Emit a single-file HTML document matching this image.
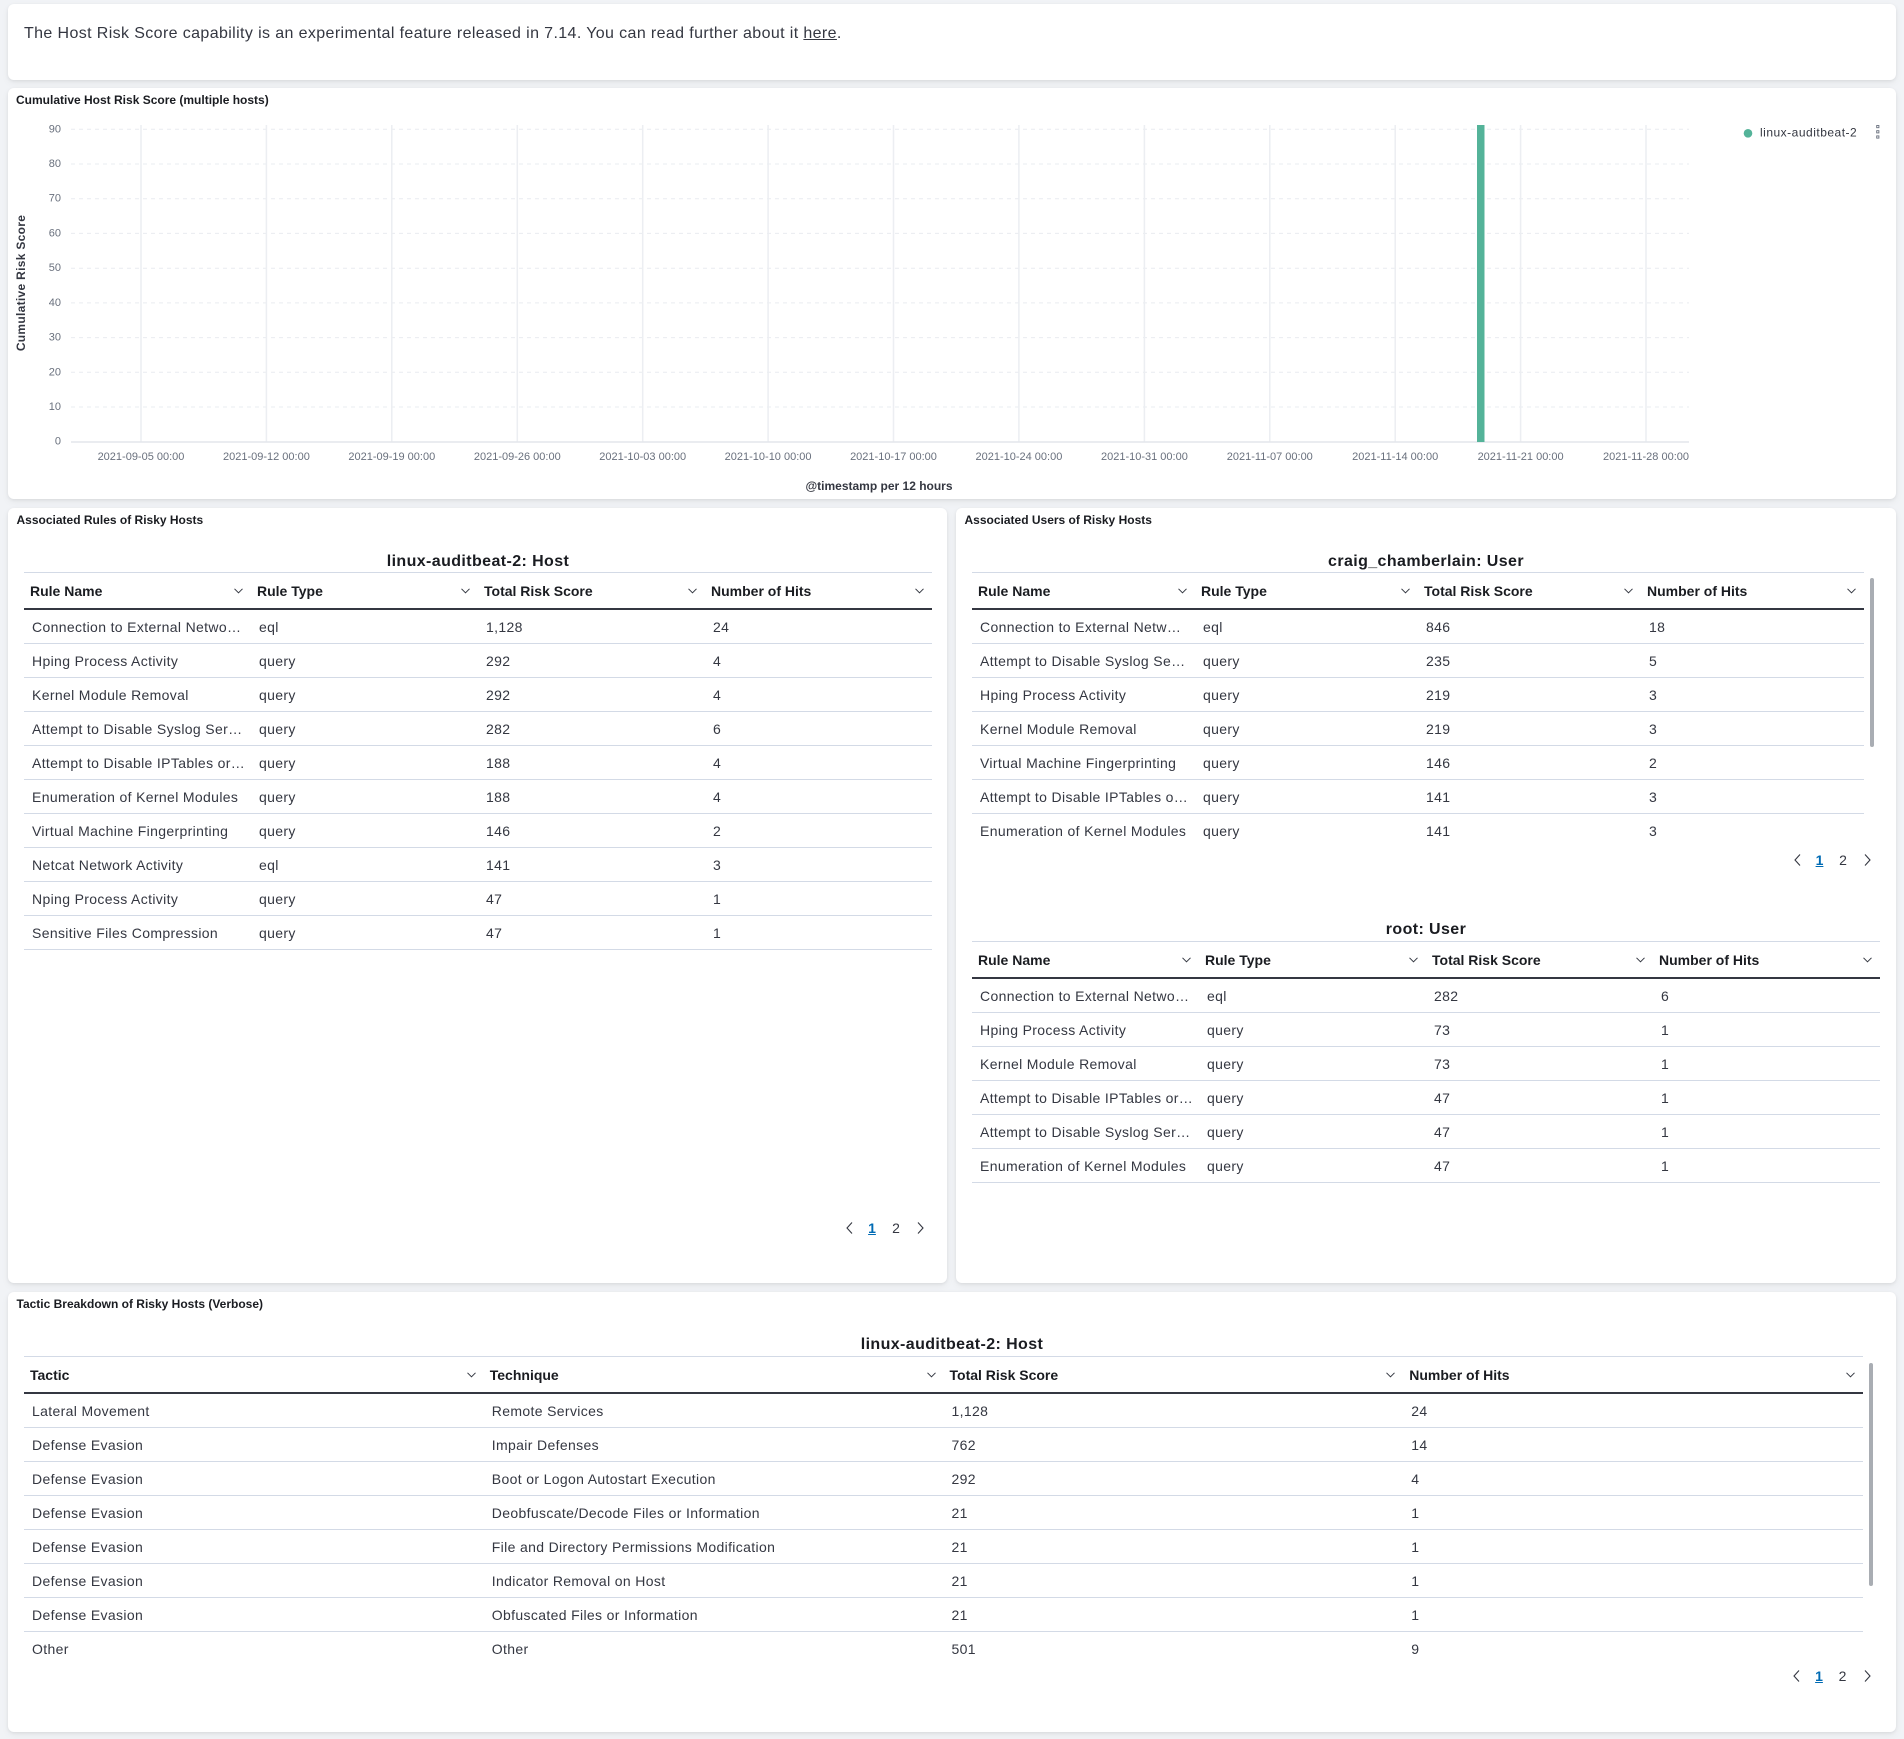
<!DOCTYPE html>
<html><head><meta charset="utf-8">
<style>
html,body{margin:0;padding:0;}
body{width:1904px;height:1739px;overflow:hidden;position:relative;background:#f1f3f6;font-family:"Liberation Sans",Arial,sans-serif;color:#343741;}
.p{position:absolute;background:#fff;border-radius:6px;box-shadow:0 1px 3px rgba(0,0,0,.07),0 3px 8px rgba(0,0,0,.05);}
.ttl{position:absolute;font-weight:bold;font-size:12px;line-height:16px;color:#1a1c21;white-space:nowrap;}
.cap{position:absolute;text-align:center;font-weight:bold;font-size:16px;line-height:20px;letter-spacing:.4px;color:#1a1c21;white-space:nowrap;}
.tbl{position:absolute;}
.hd{display:flex;height:38px;box-sizing:border-box;border-top:1px solid #d3dae6;border-bottom:2px solid #343741;}
.hd .c{position:relative;font-weight:bold;font-size:14px;line-height:37px;height:35px;padding-left:6px;color:#1a1c21;box-sizing:border-box;white-space:nowrap;}
.hd .c svg{position:absolute;top:15px;right:8px;}
.r{display:flex;height:34px;}
.r .c{height:34px;box-sizing:border-box;border-bottom:1px solid #d3dae6;line-height:35px;padding-left:8px;font-size:14px;letter-spacing:.35px;white-space:nowrap;overflow:hidden;color:#343741;}
.r.nb .c{border-bottom:none;}
.pg{position:absolute;font-size:14px;line-height:16px;}
.pg span{position:absolute;top:0;transform:translateX(-50%);}
.pg .a{color:#006bb4;text-decoration:underline;font-weight:bold;}
.pg svg{position:absolute;top:2px;}
.sb{position:absolute;width:4px;border-radius:2px;background:#a9adb3;}
</style></head>
<body>

<!-- Markdown panel -->
<div class="p" style="left:8px;top:4px;width:1888px;height:76px;"></div>
<div style="position:absolute;left:24px;top:24px;font-size:16px;line-height:20px;color:#343741;white-space:nowrap;letter-spacing:.38px;">The Host Risk Score capability is an experimental feature released in 7.14. You can read further about it <span style="text-decoration:underline;">here</span>.</div>

<!-- Chart panel -->
<div class="p" style="left:8px;top:88px;width:1888px;height:411px;"></div>
<div class="ttl" style="left:16px;top:92px;">Cumulative Host Risk Score (multiple hosts)</div>
<svg style="position:absolute;left:0;top:0;" width="1904" height="520" viewBox="0 0 1904 520">
 <g stroke="#e9ecf0" stroke-width="1" stroke-dasharray="4 4">
  <line x1="71" x2="1689" y1="407" y2="407"/>
  <line x1="71" x2="1689" y1="372.3" y2="372.3"/>
  <line x1="71" x2="1689" y1="337.6" y2="337.6"/>
  <line x1="71" x2="1689" y1="302.9" y2="302.9"/>
  <line x1="71" x2="1689" y1="268.2" y2="268.2"/>
  <line x1="71" x2="1689" y1="233.4" y2="233.4"/>
  <line x1="71" x2="1689" y1="198.7" y2="198.7"/>
  <line x1="71" x2="1689" y1="164" y2="164"/>
  <line x1="71" x2="1689" y1="129.3" y2="129.3"/>
 </g>
 <g stroke="#eceef2" stroke-width="1.5">
  <line x1="141" x2="141" y1="125" y2="442"/>
  <line x1="266.4" x2="266.4" y1="125" y2="442"/>
  <line x1="391.8" x2="391.8" y1="125" y2="442"/>
  <line x1="517.3" x2="517.3" y1="125" y2="442"/>
  <line x1="642.7" x2="642.7" y1="125" y2="442"/>
  <line x1="768.1" x2="768.1" y1="125" y2="442"/>
  <line x1="893.5" x2="893.5" y1="125" y2="442"/>
  <line x1="1018.9" x2="1018.9" y1="125" y2="442"/>
  <line x1="1144.4" x2="1144.4" y1="125" y2="442"/>
  <line x1="1269.8" x2="1269.8" y1="125" y2="442"/>
  <line x1="1395.2" x2="1395.2" y1="125" y2="442"/>
  <line x1="1520.6" x2="1520.6" y1="125" y2="442"/>
  <line x1="1646" x2="1646" y1="125" y2="442"/>
 </g>
 <line x1="71" x2="1689" y1="442" y2="442" stroke="#e3e6eb" stroke-width="1.5"/>
 <rect x="1477" y="125" width="7.5" height="317" fill="#54b399"/>
 <g font-family="Liberation Sans, Arial, sans-serif" font-size="11" fill="#69707d" text-anchor="end" dominant-baseline="central">
  <text x="61" y="441.7">0</text>
  <text x="61" y="407">10</text>
  <text x="61" y="372.3">20</text>
  <text x="61" y="337.6">30</text>
  <text x="61" y="302.9">40</text>
  <text x="61" y="268.2">50</text>
  <text x="61" y="233.4">60</text>
  <text x="61" y="198.7">70</text>
  <text x="61" y="164">80</text>
  <text x="61" y="129.3">90</text>
 </g>
 <g font-family="Liberation Sans, Arial, sans-serif" font-size="11" fill="#69707d" text-anchor="middle" dominant-baseline="central">
  <text x="141" y="457">2021-09-05 00:00</text>
  <text x="266.4" y="457">2021-09-12 00:00</text>
  <text x="391.8" y="457">2021-09-19 00:00</text>
  <text x="517.3" y="457">2021-09-26 00:00</text>
  <text x="642.7" y="457">2021-10-03 00:00</text>
  <text x="768.1" y="457">2021-10-10 00:00</text>
  <text x="893.5" y="457">2021-10-17 00:00</text>
  <text x="1018.9" y="457">2021-10-24 00:00</text>
  <text x="1144.4" y="457">2021-10-31 00:00</text>
  <text x="1269.8" y="457">2021-11-07 00:00</text>
  <text x="1395.2" y="457">2021-11-14 00:00</text>
  <text x="1520.6" y="457">2021-11-21 00:00</text>
  <text x="1646" y="457">2021-11-28 00:00</text>
 </g>
 <text x="879" y="486" font-family="Liberation Sans, Arial, sans-serif" font-size="12" font-weight="bold" fill="#343741" text-anchor="middle" dominant-baseline="central">@timestamp per 12 hours</text>
 <text transform="translate(21,283) rotate(-90)" font-family="Liberation Sans, Arial, sans-serif" font-size="12" font-weight="bold" fill="#343741" text-anchor="middle" dominant-baseline="central" letter-spacing=".3">Cumulative Risk Score</text>
 <circle cx="1748" cy="133.3" r="4.3" fill="#54b399"/>
 <text x="1760" y="132.5" font-family="Liberation Sans, Arial, sans-serif" font-size="12" fill="#343741" dominant-baseline="central" letter-spacing=".5">linux-auditbeat-2</text>
 <g fill="none" stroke="#69707d" stroke-width="0.9">
  <rect x="1876.7" y="125.5" width="2.2" height="2.2"/>
  <rect x="1876.7" y="130.7" width="2.2" height="2.2"/>
  <rect x="1876.7" y="135.9" width="2.2" height="2.2"/>
 </g>
</svg>

<!-- Left panel -->
<div class="p" style="left:8px;top:508px;width:939px;height:775px;"></div>
<div class="ttl" style="left:16.5px;top:512px;">Associated Rules of Risky Hosts</div>
<div class="cap" style="left:24px;width:908px;top:552px;">linux-auditbeat-2: Host</div>
<div class="tbl" style="left:24px;top:572px;width:908px;">
 <div class="hd">
  <div class="c" style="width:227px">Rule Name<svg width="9" height="6"><polyline points="0.5,0.8 4.5,4.8 8.5,0.8" fill="none" stroke="#343741" stroke-width="1"/></svg></div>
  <div class="c" style="width:227px">Rule Type<svg width="9" height="6"><polyline points="0.5,0.8 4.5,4.8 8.5,0.8" fill="none" stroke="#343741" stroke-width="1"/></svg></div>
  <div class="c" style="width:227px">Total Risk Score<svg width="9" height="6"><polyline points="0.5,0.8 4.5,4.8 8.5,0.8" fill="none" stroke="#343741" stroke-width="1"/></svg></div>
  <div class="c" style="width:227px">Number of Hits<svg width="9" height="6"><polyline points="0.5,0.8 4.5,4.8 8.5,0.8" fill="none" stroke="#343741" stroke-width="1"/></svg></div>
 </div>
 <div class="r"><div class="c" style="width:227px">Connection to External Netwo…</div><div class="c" style="width:227px">eql</div><div class="c" style="width:227px">1,128</div><div class="c" style="width:227px">24</div></div>
 <div class="r"><div class="c" style="width:227px">Hping Process Activity</div><div class="c" style="width:227px">query</div><div class="c" style="width:227px">292</div><div class="c" style="width:227px">4</div></div>
 <div class="r"><div class="c" style="width:227px">Kernel Module Removal</div><div class="c" style="width:227px">query</div><div class="c" style="width:227px">292</div><div class="c" style="width:227px">4</div></div>
 <div class="r"><div class="c" style="width:227px">Attempt to Disable Syslog Ser…</div><div class="c" style="width:227px">query</div><div class="c" style="width:227px">282</div><div class="c" style="width:227px">6</div></div>
 <div class="r"><div class="c" style="width:227px">Attempt to Disable IPTables or…</div><div class="c" style="width:227px">query</div><div class="c" style="width:227px">188</div><div class="c" style="width:227px">4</div></div>
 <div class="r"><div class="c" style="width:227px">Enumeration of Kernel Modules</div><div class="c" style="width:227px">query</div><div class="c" style="width:227px">188</div><div class="c" style="width:227px">4</div></div>
 <div class="r"><div class="c" style="width:227px">Virtual Machine Fingerprinting</div><div class="c" style="width:227px">query</div><div class="c" style="width:227px">146</div><div class="c" style="width:227px">2</div></div>
 <div class="r"><div class="c" style="width:227px">Netcat Network Activity</div><div class="c" style="width:227px">eql</div><div class="c" style="width:227px">141</div><div class="c" style="width:227px">3</div></div>
 <div class="r"><div class="c" style="width:227px">Nping Process Activity</div><div class="c" style="width:227px">query</div><div class="c" style="width:227px">47</div><div class="c" style="width:227px">1</div></div>
 <div class="r"><div class="c" style="width:227px">Sensitive Files Compression</div><div class="c" style="width:227px">query</div><div class="c" style="width:227px">47</div><div class="c" style="width:227px">1</div></div>
</div>
<div class="pg" style="left:0;top:1220px;width:1px;">
 <svg width="7" height="12" style="left:846px"><polyline points="6,0.5 1,6 6,11.5" fill="none" stroke="#343741" stroke-width="1.1"/></svg>
 <span class="a" style="left:872px">1</span>
 <span style="left:896px">2</span>
 <svg width="7" height="12" style="left:917px"><polyline points="1,0.5 6,6 1,11.5" fill="none" stroke="#343741" stroke-width="1.1"/></svg>
</div>

<!-- Right panel -->
<div class="p" style="left:956px;top:508px;width:940px;height:775px;"></div>
<div class="ttl" style="left:964.5px;top:512px;">Associated Users of Risky Hosts</div>
<div class="cap" style="left:972px;width:908px;top:552px;">craig_chamberlain: User</div>
<div class="tbl" style="left:972px;top:572px;width:892px;">
 <div class="hd">
  <div class="c" style="width:223px">Rule Name<svg width="9" height="6"><polyline points="0.5,0.8 4.5,4.8 8.5,0.8" fill="none" stroke="#343741" stroke-width="1"/></svg></div>
  <div class="c" style="width:223px">Rule Type<svg width="9" height="6"><polyline points="0.5,0.8 4.5,4.8 8.5,0.8" fill="none" stroke="#343741" stroke-width="1"/></svg></div>
  <div class="c" style="width:223px">Total Risk Score<svg width="9" height="6"><polyline points="0.5,0.8 4.5,4.8 8.5,0.8" fill="none" stroke="#343741" stroke-width="1"/></svg></div>
  <div class="c" style="width:223px">Number of Hits<svg width="9" height="6"><polyline points="0.5,0.8 4.5,4.8 8.5,0.8" fill="none" stroke="#343741" stroke-width="1"/></svg></div>
 </div>
 <div class="r"><div class="c" style="width:223px">Connection to External Netw…</div><div class="c" style="width:223px">eql</div><div class="c" style="width:223px">846</div><div class="c" style="width:223px">18</div></div>
 <div class="r"><div class="c" style="width:223px">Attempt to Disable Syslog Se…</div><div class="c" style="width:223px">query</div><div class="c" style="width:223px">235</div><div class="c" style="width:223px">5</div></div>
 <div class="r"><div class="c" style="width:223px">Hping Process Activity</div><div class="c" style="width:223px">query</div><div class="c" style="width:223px">219</div><div class="c" style="width:223px">3</div></div>
 <div class="r"><div class="c" style="width:223px">Kernel Module Removal</div><div class="c" style="width:223px">query</div><div class="c" style="width:223px">219</div><div class="c" style="width:223px">3</div></div>
 <div class="r"><div class="c" style="width:223px">Virtual Machine Fingerprinting</div><div class="c" style="width:223px">query</div><div class="c" style="width:223px">146</div><div class="c" style="width:223px">2</div></div>
 <div class="r"><div class="c" style="width:223px">Attempt to Disable IPTables o…</div><div class="c" style="width:223px">query</div><div class="c" style="width:223px">141</div><div class="c" style="width:223px">3</div></div>
 <div class="r nb"><div class="c" style="width:223px">Enumeration of Kernel Modules</div><div class="c" style="width:223px">query</div><div class="c" style="width:223px">141</div><div class="c" style="width:223px">3</div></div>
</div>
<div class="sb" style="left:1870px;top:578px;height:169px;"></div>
<div class="pg" style="left:0;top:852px;width:1px;">
 <svg width="7" height="12" style="left:1794px"><polyline points="6,0.5 1,6 6,11.5" fill="none" stroke="#343741" stroke-width="1.1"/></svg>
 <span class="a" style="left:1819.5px">1</span>
 <span style="left:1843px">2</span>
 <svg width="7" height="12" style="left:1864px"><polyline points="1,0.5 6,6 1,11.5" fill="none" stroke="#343741" stroke-width="1.1"/></svg>
</div>

<div class="cap" style="left:972px;width:908px;top:920px;">root: User</div>
<div class="tbl" style="left:972px;top:941px;width:908px;">
 <div class="hd">
  <div class="c" style="width:227px">Rule Name<svg width="9" height="6"><polyline points="0.5,0.8 4.5,4.8 8.5,0.8" fill="none" stroke="#343741" stroke-width="1"/></svg></div>
  <div class="c" style="width:227px">Rule Type<svg width="9" height="6"><polyline points="0.5,0.8 4.5,4.8 8.5,0.8" fill="none" stroke="#343741" stroke-width="1"/></svg></div>
  <div class="c" style="width:227px">Total Risk Score<svg width="9" height="6"><polyline points="0.5,0.8 4.5,4.8 8.5,0.8" fill="none" stroke="#343741" stroke-width="1"/></svg></div>
  <div class="c" style="width:227px">Number of Hits<svg width="9" height="6"><polyline points="0.5,0.8 4.5,4.8 8.5,0.8" fill="none" stroke="#343741" stroke-width="1"/></svg></div>
 </div>
 <div class="r"><div class="c" style="width:227px">Connection to External Netwo…</div><div class="c" style="width:227px">eql</div><div class="c" style="width:227px">282</div><div class="c" style="width:227px">6</div></div>
 <div class="r"><div class="c" style="width:227px">Hping Process Activity</div><div class="c" style="width:227px">query</div><div class="c" style="width:227px">73</div><div class="c" style="width:227px">1</div></div>
 <div class="r"><div class="c" style="width:227px">Kernel Module Removal</div><div class="c" style="width:227px">query</div><div class="c" style="width:227px">73</div><div class="c" style="width:227px">1</div></div>
 <div class="r"><div class="c" style="width:227px">Attempt to Disable IPTables or…</div><div class="c" style="width:227px">query</div><div class="c" style="width:227px">47</div><div class="c" style="width:227px">1</div></div>
 <div class="r"><div class="c" style="width:227px">Attempt to Disable Syslog Ser…</div><div class="c" style="width:227px">query</div><div class="c" style="width:227px">47</div><div class="c" style="width:227px">1</div></div>
 <div class="r"><div class="c" style="width:227px">Enumeration of Kernel Modules</div><div class="c" style="width:227px">query</div><div class="c" style="width:227px">47</div><div class="c" style="width:227px">1</div></div>
</div>

<!-- Bottom panel -->
<div class="p" style="left:8px;top:1292px;width:1888px;height:440px;"></div>
<div class="ttl" style="left:16.5px;top:1296px;">Tactic Breakdown of Risky Hosts (Verbose)</div>
<div class="cap" style="left:24px;width:1856px;top:1335px;">linux-auditbeat-2: Host</div>
<div class="tbl" style="left:24px;top:1356px;width:1839px;">
 <div class="hd">
  <div class="c" style="width:459.75px">Tactic<svg width="9" height="6"><polyline points="0.5,0.8 4.5,4.8 8.5,0.8" fill="none" stroke="#343741" stroke-width="1"/></svg></div>
  <div class="c" style="width:459.75px">Technique<svg width="9" height="6"><polyline points="0.5,0.8 4.5,4.8 8.5,0.8" fill="none" stroke="#343741" stroke-width="1"/></svg></div>
  <div class="c" style="width:459.75px">Total Risk Score<svg width="9" height="6"><polyline points="0.5,0.8 4.5,4.8 8.5,0.8" fill="none" stroke="#343741" stroke-width="1"/></svg></div>
  <div class="c" style="width:459.75px">Number of Hits<svg width="9" height="6"><polyline points="0.5,0.8 4.5,4.8 8.5,0.8" fill="none" stroke="#343741" stroke-width="1"/></svg></div>
 </div>
 <div class="r"><div class="c" style="width:459.75px">Lateral Movement</div><div class="c" style="width:459.75px">Remote Services</div><div class="c" style="width:459.75px">1,128</div><div class="c" style="width:459.75px">24</div></div>
 <div class="r"><div class="c" style="width:459.75px">Defense Evasion</div><div class="c" style="width:459.75px">Impair Defenses</div><div class="c" style="width:459.75px">762</div><div class="c" style="width:459.75px">14</div></div>
 <div class="r"><div class="c" style="width:459.75px">Defense Evasion</div><div class="c" style="width:459.75px">Boot or Logon Autostart Execution</div><div class="c" style="width:459.75px">292</div><div class="c" style="width:459.75px">4</div></div>
 <div class="r"><div class="c" style="width:459.75px">Defense Evasion</div><div class="c" style="width:459.75px">Deobfuscate/Decode Files or Information</div><div class="c" style="width:459.75px">21</div><div class="c" style="width:459.75px">1</div></div>
 <div class="r"><div class="c" style="width:459.75px">Defense Evasion</div><div class="c" style="width:459.75px">File and Directory Permissions Modification</div><div class="c" style="width:459.75px">21</div><div class="c" style="width:459.75px">1</div></div>
 <div class="r"><div class="c" style="width:459.75px">Defense Evasion</div><div class="c" style="width:459.75px">Indicator Removal on Host</div><div class="c" style="width:459.75px">21</div><div class="c" style="width:459.75px">1</div></div>
 <div class="r"><div class="c" style="width:459.75px">Defense Evasion</div><div class="c" style="width:459.75px">Obfuscated Files or Information</div><div class="c" style="width:459.75px">21</div><div class="c" style="width:459.75px">1</div></div>
 <div class="r nb"><div class="c" style="width:459.75px">Other</div><div class="c" style="width:459.75px">Other</div><div class="c" style="width:459.75px">501</div><div class="c" style="width:459.75px">9</div></div>
</div>
<div class="sb" style="left:1869px;top:1363px;height:223px;"></div>
<div class="pg" style="left:0;top:1668px;width:1px;">
 <svg width="7" height="12" style="left:1793px"><polyline points="6,0.5 1,6 6,11.5" fill="none" stroke="#343741" stroke-width="1.1"/></svg>
 <span class="a" style="left:1819px">1</span>
 <span style="left:1842.5px">2</span>
 <svg width="7" height="12" style="left:1863.5px"><polyline points="1,0.5 6,6 1,11.5" fill="none" stroke="#343741" stroke-width="1.1"/></svg>
</div>

</body></html>
